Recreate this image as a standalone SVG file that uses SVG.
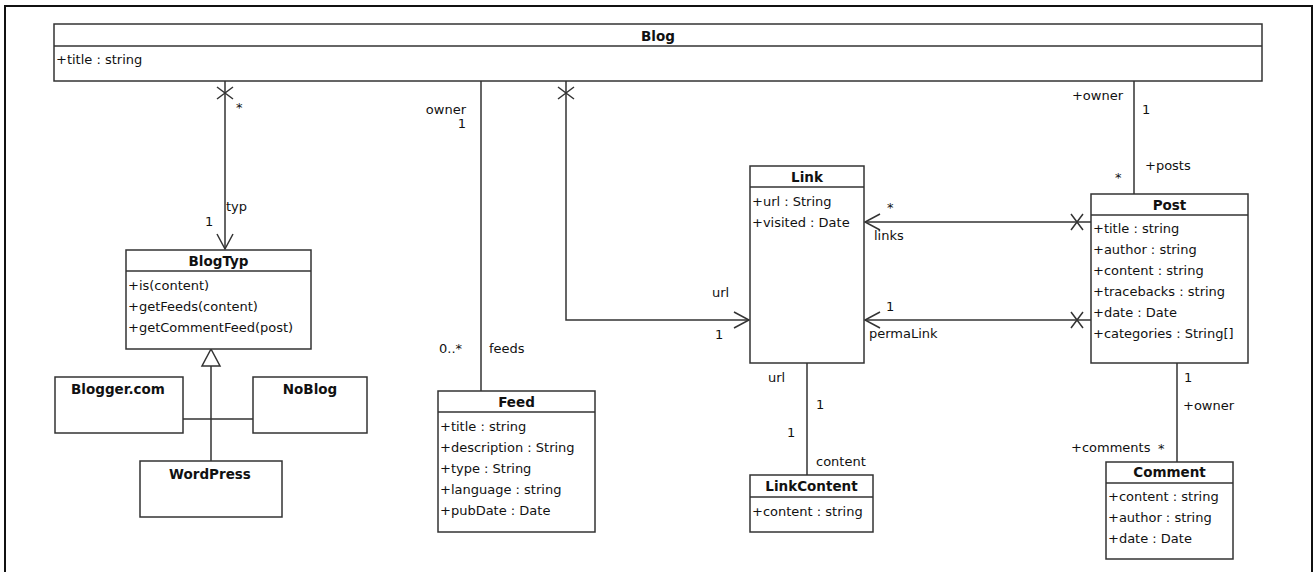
<svg xmlns="http://www.w3.org/2000/svg" width="1314" height="572" viewBox="0 0 1314 572">
  <style>
    .box { fill: #fff; stroke: #333; stroke-width: 1.5; }
    .div { stroke: #333; stroke-width: 1.5; }
    .ln { fill: none; stroke: #333; stroke-width: 1.5; }
    text { font-family: "DejaVu Sans", Verdana, sans-serif; font-size: 13px; fill: #111; }
    .t { font-weight: bold; font-size: 13.5px; text-anchor: middle; }
    .e { text-anchor: end; }
  </style>
  <defs>
    <marker id="open" viewBox="-16 -9 18 18" markerWidth="18" markerHeight="18" refX="0" refY="0" orient="auto" markerUnits="userSpaceOnUse">
      <path d="M-15,-8 L0,0 L-15,8" fill="none" stroke="#333" stroke-width="1.5"/>
    </marker>
  </defs>

  <!-- frame -->
  <path d="M5,572 V6 H1312 V572" fill="none" stroke="#111" stroke-width="2"/>

  <!-- connectors -->
  <g id="connectors">
    <!-- Blog -> BlogTyp -->
    <path class="ln" d="M225,81 V249" marker-end="url(#open)"/>
    <path class="ln" d="M217,87 L233,99 M233,87 L217,99"/>
    <!-- Blog - Feed -->
    <path class="ln" d="M481,81 V391"/>
    <!-- Blog -> Link (url) -->
    <path class="ln" d="M566,81 V320 H749" marker-end="url(#open)"/>
    <path class="ln" d="M558,87 L574,99 M574,87 L558,99"/>
    <!-- Blog - Post -->
    <path class="ln" d="M1134,81 V194"/>
    <!-- Post -> Link (links) -->
    <path class="ln" d="M1091,222 H865" marker-end="url(#open)"/>
    <path class="ln" d="M1071,214 L1083,230 M1083,214 L1071,230"/>
    <!-- Post -> Link (permaLink) -->
    <path class="ln" d="M1091,320 H865" marker-end="url(#open)"/>
    <path class="ln" d="M1071,312 L1083,328 M1083,312 L1071,328"/>
    <!-- Link - LinkContent -->
    <path class="ln" d="M807,363 V475"/>
    <!-- Post - Comment -->
    <path class="ln" d="M1177,363 V462"/>
    <!-- generalization to BlogTyp -->
    <path class="ln" d="M211,366 V461 M183,419 H253"/>
    <path d="M211,349 L202,366 H220 Z" fill="#fff" stroke="#333" stroke-width="1.5"/>

    <!-- end labels -->
    <text x="236" y="112">*</text>
    <text x="226" y="211">typ</text>
    <text x="205" y="226">1</text>
    <text class="e" x="466" y="114">owner</text>
    <text class="e" x="466" y="128">1</text>
    <text x="439" y="353">0..*</text>
    <text x="489" y="353">feeds</text>
    <text x="712" y="297">url</text>
    <text x="715" y="339">1</text>
    <text class="e" x="1123" y="100">+owner</text>
    <text x="1142" y="114">1</text>
    <text x="1145" y="170">+posts</text>
    <text x="1115" y="182">*</text>
    <text x="887" y="212">*</text>
    <text x="874" y="240">links</text>
    <text x="886" y="311">1</text>
    <text x="869" y="338">permaLink</text>
    <text x="768" y="382">url</text>
    <text x="816" y="409">1</text>
    <text x="787" y="437">1</text>
    <text x="816" y="466">content</text>
    <text x="1184" y="382">1</text>
    <text x="1183" y="410">+owner</text>
    <text x="1071" y="452">+comments</text>
    <text x="1158" y="453">*</text>
  </g>

  <g id="Blog">
    <rect class="box" x="54" y="24" width="1208" height="57"/>
    <line class="div" x1="54" y1="46" x2="1262" y2="46"/>
    <text class="t" x="658" y="41">Blog</text>
    <text x="56" y="64">+title : string</text>
  </g>

  <g id="BlogTyp">
    <rect class="box" x="126" y="250" width="185" height="99"/>
    <line class="div" x1="126" y1="271" x2="311" y2="271"/>
    <text class="t" x="218.5" y="266">BlogTyp</text>
    <text x="128" y="290">+is(content)</text>
    <text x="128" y="311">+getFeeds(content)</text>
    <text x="128" y="332">+getCommentFeed(post)</text>
  </g>

  <g id="Blogger">
    <rect class="box" x="55" y="377" width="128" height="56"/>
    <text class="t" x="118" y="394">Blogger.com</text>
  </g>

  <g id="NoBlog">
    <rect class="box" x="253" y="377" width="114" height="56"/>
    <text class="t" x="310" y="394">NoBlog</text>
  </g>

  <g id="WordPress">
    <rect class="box" x="140" y="461" width="142" height="56"/>
    <text class="t" x="210" y="479">WordPress</text>
  </g>

  <g id="Feed">
    <rect class="box" x="438" y="391" width="157" height="141"/>
    <line class="div" x1="438" y1="412" x2="595" y2="412"/>
    <text class="t" x="516.5" y="407">Feed</text>
    <text x="440" y="431">+title : string</text>
    <text x="440" y="452">+description : String</text>
    <text x="440" y="473">+type : String</text>
    <text x="440" y="494">+language : string</text>
    <text x="440" y="515">+pubDate : Date</text>
  </g>

  <g id="Link">
    <rect class="box" x="750" y="166" width="114" height="197"/>
    <line class="div" x1="750" y1="187" x2="864" y2="187"/>
    <text class="t" x="807" y="182">Link</text>
    <text x="752" y="206">+url : String</text>
    <text x="752" y="227">+visited : Date</text>
  </g>

  <g id="LinkContent">
    <rect class="box" x="750" y="475" width="123" height="57"/>
    <line class="div" x1="750" y1="497" x2="873" y2="497"/>
    <text class="t" x="811.5" y="491">LinkContent</text>
    <text x="752" y="516">+content : string</text>
  </g>

  <g id="Post">
    <rect class="box" x="1091" y="194" width="157" height="169"/>
    <line class="div" x1="1091" y1="215" x2="1248" y2="215"/>
    <text class="t" x="1169.5" y="210">Post</text>
    <text x="1093" y="233">+title : string</text>
    <text x="1093" y="254">+author : string</text>
    <text x="1093" y="275">+content : string</text>
    <text x="1093" y="296">+tracebacks : string</text>
    <text x="1093" y="317">+date : Date</text>
    <text x="1093" y="338">+categories : String[]</text>
  </g>

  <g id="Comment">
    <rect class="box" x="1106" y="462" width="127" height="97"/>
    <line class="div" x1="1106" y1="483" x2="1233" y2="483"/>
    <text class="t" x="1169.5" y="477">Comment</text>
    <text x="1108" y="501">+content : string</text>
    <text x="1108" y="522">+author : string</text>
    <text x="1108" y="543">+date : Date</text>
  </g>
</svg>
